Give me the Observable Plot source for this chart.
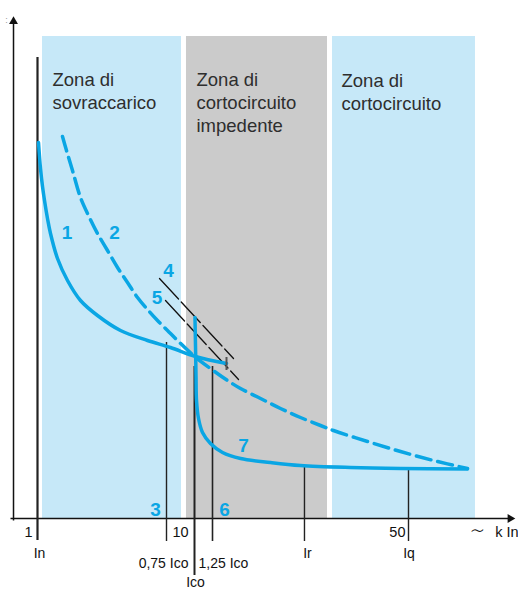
<!DOCTYPE html>
<html>
<head>
<meta charset="utf-8">
<script src="https://cdn.jsdelivr.net/npm/d3@7"></script>
<script src="https://cdn.jsdelivr.net/npm/@observablehq/plot@0.6"></script>
<style>
  html, body { margin: 0; padding: 0; background: #fff; }
  #chart svg { display: block; }
</style>
</head>
<body>
<div id="chart"></div>
<script>
// ---- Data (schematic units: x = multiples of In, y = time units) ----
const zoneNames = [["Zona di", "sovraccarico"], ["Zona di", "cortocircuito", "impedente"], ["Zona di", "cortocircuito"]];
const zoneStart = [1.315, 11.05, 36.67];
const zoneEnd = [10.175, 35.79, 61.75];
const zoneFill = ["#c6e8f8", "#cbcbcb", "#c6e8f8"];
const zoneTop = 96.4;
const zoneTextX = [1.944, 12.807, 38.25];
const zoneTextY = [86.6, 86.6, 86.4];

// curve 1: thermal release (solid)
const curve1X = [1.063, 1.189, 1.315, 1.441, 1.629, 1.818, 2.259, 2.888, 3.706, 4.776, 6.224, 7.923, 9.37, 12.63, 18.07];
const curve1Y = [75.2, 70.0, 66.4, 63.6, 60.0, 57.0, 52.0, 47.6, 43.6, 40.6, 37.6, 35.6, 34.2, 32.4, 31.0];
// curve 2: dashed
const curve2X = [2.573, 2.825, 3.203, 3.706, 4.21, 4.776, 5.406, 6.035, 6.664, 7.294, 7.923, 8.552, 9.182, 9.811, 12.28, 15.26, 18.25, 20.53, 24.04, 27.54, 31.05, 34.56, 36.84, 42.81, 48.6, 54.39, 60.35];
const curve2Y = [76.4, 73.6, 69.6, 64.2, 60.6, 57.0, 53.6, 50.2, 47.2, 44.2, 41.8, 39.6, 37.6, 35.6, 32.6, 30.0, 27.6, 26.0, 24.0, 22.0, 20.2, 18.6, 17.6, 15.4, 13.4, 11.6, 10.0];
// curves 6-7: magnetic release (solid)
const curve7X = [12.54, 12.63, 12.72, 12.81, 13.16, 13.86, 15.26, 17.37, 20.53, 25.79, 31.05, 39.82, 48.6, 60.35];
const curve7Y = [40.2, 34.6, 28.6, 23.6, 20.0, 17.2, 15.0, 13.2, 12.0, 11.2, 10.6, 10.2, 10.0, 9.9];
// lines 4 and 5 (thin dashed)
const line4 = [[8.678, 48.0], [19.3, 32.0]];
const line5 = [[9.056, 43.6], [20.18, 27.8]];
const curve1End = { x: 18.07, y1: 32.2, y2: 29.6 };

// vertical reference lines (tick lines below axis)
const refNames = ["In", "0,75 Ico", "Ico", "1,25 Ico", "Ir", "Iq"];
const refX = [1, 9.119, 12.456, 15.614, 31.75, 50];
const refTop = [92.2, 35.2, 30.4, 30.4, 10.4, 9.8];
const refBottom = [-4.4, -4.6, -11.4, -4.6, -4.6, -4.6];
const refWidth = [2.2, 1.4, 2, 1.6, 1.4, 1.4];
const refLabelX = [1.126, 11.40, 12.63, 13.16, 32.28, 50.09];
const refLabelY = [-7.8, -9.8, -13.6, -9.8, -7.8, -7.8];
const refLabelAnchor = ["middle", "end", "middle", "start", "middle", "middle"];

// axis tick labels
const tickLabels = ["1", "10", "50"];
const tickLabelX = [0.685, 10, 49.47];
const tickAnchor = ["end", "middle", "end"];
const unitLabel = "k In";
const unitLabelX = 69.3;
const tildeX = 62.1;

// curve number labels
const numLabels = ["1", "2", "3", "4", "5", "6", "7"];
const numX = [2.857, 5.846, 8.426, 9.245, 8.521, 17.72, 21.05];
const numY = [56, 56, 0.6, 48.4, 43, 0.6, 13.4];

const axisX = { x1: -0.70, x2: 67.84, y: 0 };
const axisY = { x: -0.51, y1: -0.4, y2: 99.4 };

// ---- Build tables ----
const cyan = "#0aa6e4";
const font = "Liberation Sans, Arial, Helvetica, sans-serif";
const zones = zoneStart.map((s, i) => ({ x1: s, x2: zoneEnd[i], y1: 0, y2: zoneTop, fill: zoneFill[i] }));
const zoneText = zoneNames.flatMap((lines, i) => lines.map((t, j) => ({ text: t, x: zoneTextX[i], y: zoneTextY[i] - j * 4.6 })));
const c1 = curve1X.map((x, i) => ({ x, y: curve1Y[i] }));
const c2 = curve2X.map((x, i) => ({ x, y: curve2Y[i] }));
const c7 = curve7X.map((x, i) => ({ x, y: curve7Y[i] }));
const l4 = line4.map(([x, y]) => ({ x, y }));
const l5 = line5.map(([x, y]) => ({ x, y }));
const refs = refNames.map((n, i) => ({ name: n, x: refX[i], y1: refTop[i], y2: refBottom[i], w: refWidth[i], lx: refLabelX[i], ly: refLabelY[i], anchor: refLabelAnchor[i] }));
const ticks = tickLabels.map((t, i) => ({ text: t, x: tickLabelX[i], anchor: tickAnchor[i] }));
const nums = numLabels.map((t, i) => ({ text: t, x: numX[i], y: numY[i] }));

const refText = (anchor) => Plot.text(refs.filter(d => d.anchor === anchor), {
  x: "lx", y: "ly", text: "name", textAnchor: anchor, lineAnchor: "bottom",
  fontSize: 14, fill: "#111", letterSpacing: "-0.6px"
});
const tickText = (anchor) => Plot.text(ticks.filter(d => d.anchor === anchor), {
  x: "x", y: () => -3.6, text: "text", textAnchor: anchor, lineAnchor: "bottom", fontSize: 14.5, fill: "#111"
});

const chart = Plot.plot({
  width: 518,
  height: 590,
  margin: 0,
  style: { background: "#fff", fontFamily: font, overflow: "visible" },
  x: { type: "linear", domain: [1, 10, 50], range: [37, 180, 408], axis: null },
  y: { type: "linear", domain: [0, 100], range: [518, 18], axis: null },
  marks: [
    Plot.rect(zones, { x1: "x1", x2: "x2", y1: "y1", y2: "y2", fill: "fill" }),
    Plot.text(zoneText, { x: "x", y: "y", text: "text", textAnchor: "start", lineAnchor: "bottom", fontSize: 18.5, fill: "#2e2e2e" }),
    // axes
    Plot.link([axisX], { x1: "x1", x2: "x2", y1: "y", y2: "y", stroke: "#111", strokeWidth: 1.5 }),
    Plot.link([axisY], { x1: "x", x2: "x", y1: "y1", y2: "y2", stroke: "#111", strokeWidth: 1.5 }),
    Plot.dot([{ x: axisX.x2, y: 0 }], { x: "x", y: "y", symbol: "triangle", r: 3.3, fill: "#111", stroke: null, rotate: 90 }),
    Plot.dot([{ x: axisY.x, y: axisY.y2 }], { x: "x", y: "y", symbol: "triangle", r: 3.3, fill: "#111", stroke: null }),
    Plot.text([{ x: -0.951, y: 99.6 }], { x: "x", y: "y", text: () => ":", fontSize: 9, fill: "#999" }),
    // reference lines
    Plot.ruleX(refs, { x: "x", y1: "y1", y2: "y2", stroke: "#222", strokeWidth: "w" }),
    refText("middle"),
    refText("end"),
    refText("start"),
    // tick labels
    tickText("end"),
    tickText("middle"),
    Plot.text([{ x: unitLabelX, y: -3.6 }], { x: "x", y: "y", text: () => unitLabel, textAnchor: "end", lineAnchor: "bottom", fontSize: 14.5, fill: "#111" }),
    Plot.text([{ x: tildeX, y: -2.6 }], { x: "x", y: "y", text: () => "∼", textAnchor: "middle", lineAnchor: "middle", fontSize: 24, fontWeight: 300, fill: "#111", fontFamily: "DejaVu Sans" }),
    // dashed thin lines 4, 5
    Plot.line(l4, { x: "x", y: "y", stroke: "#111", strokeWidth: 1.3, strokeDasharray: "28,4" }),
    Plot.line(l5, { x: "x", y: "y", stroke: "#111", strokeWidth: 1.3, strokeDasharray: "28,4" }),
    // curves
    Plot.line(c2, { x: "x", y: "y", stroke: cyan, strokeWidth: 3.5, strokeDasharray: "15,7", curve: "catmull-rom" }),
    Plot.line(c1, { x: "x", y: "y", stroke: cyan, strokeWidth: 3.5, curve: "catmull-rom" }),
    Plot.line(c7, { x: "x", y: "y", stroke: cyan, strokeWidth: 3.5, curve: "catmull-rom" }),
    Plot.ruleX([curve1End], { x: "x", y1: "y1", y2: "y2", stroke: "#555", strokeWidth: 2 }),
    // numbers
    Plot.text(nums, { x: "x", y: "y", text: "text", lineAnchor: "bottom", fontSize: 19, fontWeight: "bold", fill: cyan })
  ]
});
document.getElementById("chart").appendChild(chart);
</script>
</body>
</html>
